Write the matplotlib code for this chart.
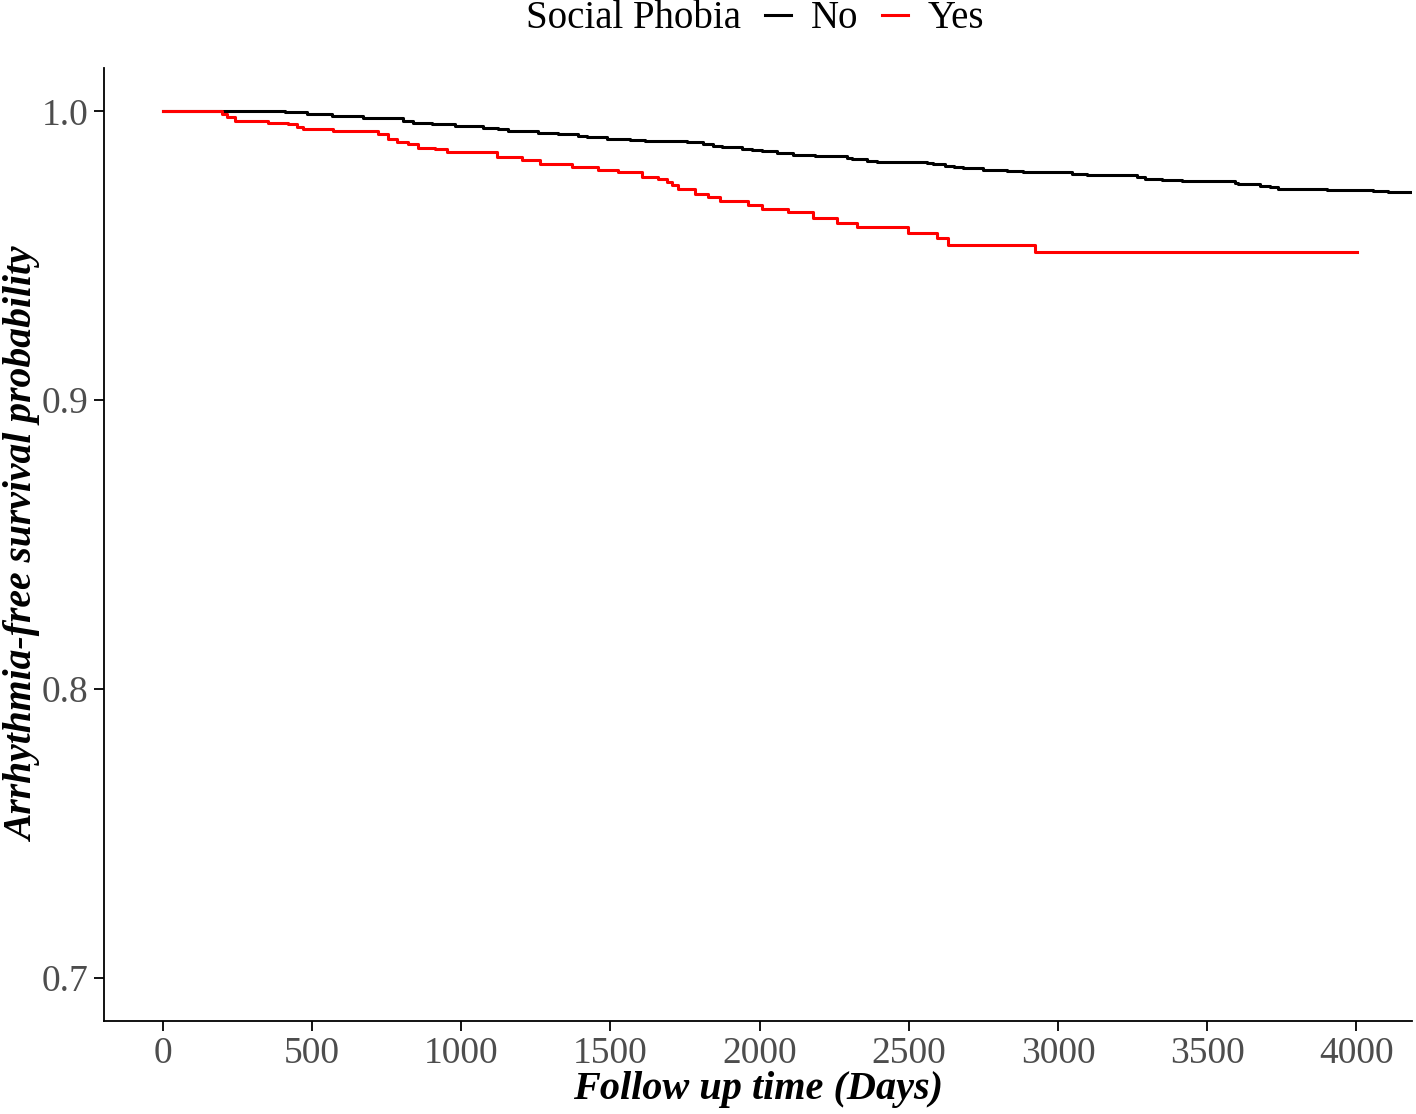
import matplotlib
matplotlib.use("Agg")
import matplotlib.pyplot as plt
from matplotlib.lines import Line2D

# Kaplan-Meier steps
no_time = [0, 409, 482, 566, 671, 806, 839, 901, 979, 1074, 1124, 1158, 1258, 1325,
           1392, 1420, 1487, 1565, 1616, 1756, 1811, 1845, 1873, 1940, 1973, 2007,
           2057, 2113, 2186, 2292, 2309, 2359, 2393, 2560, 2582, 2622, 2652, 2683,
           2750, 2828, 2884, 3046, 3097, 3264, 3292, 3348, 3415, 3594, 3605, 3678,
           3711, 3739, 3901, 4057, 4108, 4200]
no_surv = [1.0, 0.9997, 0.9991, 0.9983, 0.9976, 0.9966, 0.9961, 0.9955, 0.9948, 0.9941,
           0.9937, 0.9931, 0.9925, 0.9921, 0.9916, 0.9911, 0.9905, 0.9900, 0.9896,
           0.9892, 0.9887, 0.9881, 0.9875, 0.9871, 0.9865, 0.9861, 0.9855, 0.9849,
           0.9845, 0.9838, 0.9835, 0.9829, 0.9825, 0.9820, 0.9816, 0.9811, 0.9806,
           0.9802, 0.9797, 0.9792, 0.9788, 0.9783, 0.9779, 0.9773, 0.9767, 0.9761,
           0.9757, 0.9750, 0.9747, 0.9742, 0.9737, 0.9731, 0.9727, 0.9723, 0.9719,
           0.9719]

yes_time = [0, 198, 213, 241, 353, 420, 448, 470, 570, 722, 754, 783, 821, 855, 912,
            951, 1119, 1202, 1264, 1370, 1459, 1526, 1605, 1660, 1689, 1705, 1728,
            1784, 1828, 1867, 1962, 2007, 2096, 2180, 2258, 2325, 2499, 2594, 2633,
            2923, 4002]
yes_surv = [1.0, 0.9992, 0.9980, 0.9966, 0.9961, 0.9955, 0.9946, 0.9940, 0.9932, 0.9920,
            0.9903, 0.9892, 0.9886, 0.9874, 0.9869, 0.9859, 0.9842, 0.9830, 0.9819,
            0.9807, 0.9796, 0.9788, 0.9773, 0.9764, 0.9756, 0.9744, 0.9730, 0.9715,
            0.9704, 0.9690, 0.9675, 0.9660, 0.9650, 0.9629, 0.9614, 0.9600, 0.9580,
            0.9562, 0.9536, 0.9511, 0.9511]

x_ticks = [0, 500, 1000, 1500, 2000, 2500, 3000, 3500, 4000]
y_ticks = [0.7, 0.8, 0.9, 1.0]

plt.rcParams['font.family'] = ['Liberation Serif', 'DejaVu Serif']

fig = plt.figure(figsize=(14.16, 11.14), dpi=100)
ax = fig.add_axes([0.0734, 0.0835, 0.9238, 0.8555])

ax.plot(no_time, no_surv, drawstyle='steps-post', color='black', lw=2.2)
ax.plot(yes_time, yes_surv, drawstyle='steps-post', color='#FF0000', lw=2.2)

ax.set_xlim(-198, 4187)
ax.set_ylim(0.685, 1.015)
ax.set_xticks(x_ticks)
ax.set_yticks(y_ticks)
ax.set_yticklabels([f'{v:.1f}' for v in y_ticks])

for s in ['top', 'right']:
    ax.spines[s].set_visible(False)
for s in ['left', 'bottom']:
    ax.spines[s].set_linewidth(1.3)
ax.tick_params(length=7, width=1.3, color='black', labelsize=27,
               labelcolor='#4D4D4D', pad=4)

ax.set_xlabel('Follow up time (Days)', fontsize=29, fontweight='bold',
              style='italic', labelpad=0)
ax.set_ylabel('Arrhythmia-free survival probability', fontsize=28.5,
              fontweight='bold', style='italic')
ax.yaxis.set_label_coords(-0.047, 0.5)

# legend on top: title at left, entries in a row
fig.text(741 / 1416, 1 - 18 / 1114, 'Social Phobia', fontsize=28,
         ha='right', va='center')
handles = [Line2D([], [], color='black', lw=2.2),
           Line2D([], [], color='#FF0000', lw=2.2)]
fig.legend(handles, ['No', 'Yes'], loc='center left',
           bbox_to_anchor=(765 / 1416, 1 - 19 / 1114), ncol=2, frameon=False,
           fontsize=28, handlelength=0.68, handletextpad=0.5,
           columnspacing=0.6, borderpad=0, borderaxespad=0)

fig.savefig('out.png', dpi=100)
